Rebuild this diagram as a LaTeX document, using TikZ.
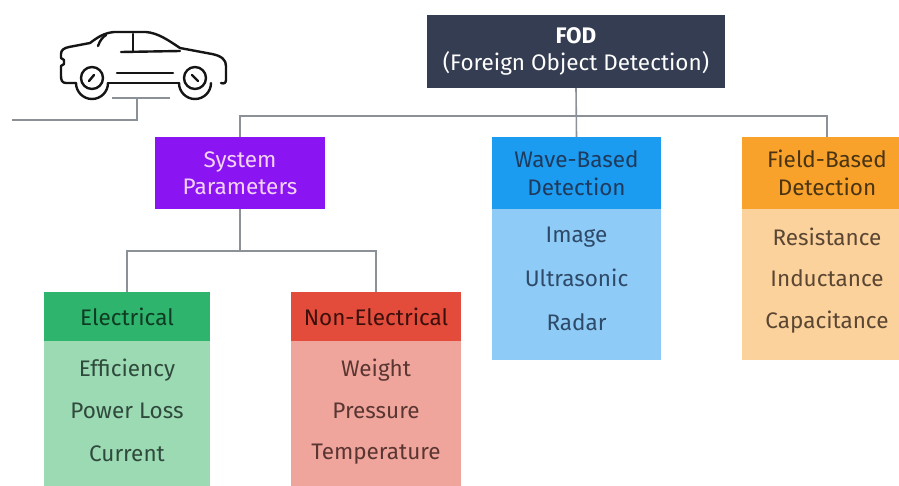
\documentclass[tikz,border=0pt]{standalone}
\usepackage{fontspec}
\setmainfont{Fira Sans}
\definecolor{fodC}{HTML}{353D52}
\definecolor{sysC}{HTML}{8A14F2}
\definecolor{sysT}{HTML}{F3D2F5}
\definecolor{waveH}{HTML}{1C9CF0}
\definecolor{waveB}{HTML}{8ECBF6}
\definecolor{waveT}{HTML}{1F3A5C}
\definecolor{waveI}{HTML}{2E4A68}
\definecolor{fieldH}{HTML}{F8A22C}
\definecolor{fieldB}{HTML}{FCD29C}
\definecolor{fieldT}{HTML}{4A3412}
\definecolor{fieldI}{HTML}{5A4632}
\definecolor{elecH}{HTML}{2EB46C}
\definecolor{elecB}{HTML}{9BDAB2}
\definecolor{elecT}{HTML}{0F3B22}
\definecolor{elecI}{HTML}{2F4A3C}
\definecolor{nonH}{HTML}{E34B3B}
\definecolor{nonB}{HTML}{F0A59C}
\definecolor{nonT}{HTML}{3B100B}
\definecolor{nonI}{HTML}{5A3632}
\definecolor{lineC}{HTML}{8C9197}
\definecolor{carC}{HTML}{151515}
\tikzset{
  box/.style={inner sep=0pt, outer sep=0pt, align=center, font=\fontsize{22.5}{27.5}\selectfont},
  item/.style={inner sep=0pt, outer sep=0pt, font=\fontsize{22.5}{26}\selectfont},
  conn/.style={draw=lineC, line width=1.6pt},
  carline/.style={draw=carC, line width=2.4pt, line cap=round, line join=round},
}
\begin{document}
\begin{tikzpicture}[x=1pt,y=-1pt]
\useasboundingbox (0,0) rectangle (899,485);
\clip (0,0) rectangle (899,485);
\fill[white] (0,0) rectangle (899,485);

% coordinates for buses
\coordinate (bus) at (0,116);
\coordinate (subbus) at (0,251);

% top node
\node[box, fill=fodC, text=white, minimum width=298, minimum height=73] (fod) at (576,51.5)
  {\textbf{FOD}\\(Foreign Object Detection)};

% level 1
\node[box, fill=sysC, text=sysT, minimum width=170, minimum height=72] (sys) at (240,173)
  {System\\Parameters};
\node[box, fill=waveH, text=waveT, minimum width=169, minimum height=72] (wave) at (576.5,173)
  {Wave-Based\\Detection};
\node[box, fill=fieldH, text=fieldT, minimum width=170, minimum height=72] (field) at (827,173)
  {Field-Based\\Detection};
\node[box, fill=waveB, minimum width=169, minimum height=151, anchor=north] (waveb) at (wave.south) {};
\node[box, fill=fieldB, minimum width=170, minimum height=151, anchor=north] (fieldb) at (field.south) {};

% level 2
\node[box, fill=elecH, text=elecT, minimum width=166, minimum height=49] (elec) at (127,316.5) {Electrical};
\node[box, fill=nonH, text=nonT, minimum width=170, minimum height=49] (non) at (376,316.5) {Non-Electrical};
\node[box, fill=elecB, minimum width=166, minimum height=160, anchor=north] (elecb) at (elec.south) {};
\node[box, fill=nonB, minimum width=170, minimum height=160, anchor=north] (nonb) at (non.south) {};

% items
\node[item, text=waveI] (w1) at (576.5,237) {Image};
\node[item, text=waveI] (w2) at (576.5,278) {Ultrasonic};
\node[item, text=waveI] (w3) at (576.5,322) {Radar};
\node[item, text=fieldI] (f1) at (827,237) {Resistance};
\node[item, text=fieldI] (f2) at (827,278) {Inductance};
\node[item, text=fieldI] (f3) at (827,322) {Capacitance};
\node[item, text=elecI] (e1) at (127,370) {Efficiency};
\node[item, text=elecI] (e2) at (127,411) {Power Loss};
\node[item, text=elecI] (e3) at (127,454) {Current};
\node[item, text=nonI] (n1) at (376,370) {Weight};
\node[item, text=nonI] (n2) at (376,411) {Pressure};
\node[item, text=nonI] (n3) at (376,454) {Temperature};

% connectors
\draw[conn] (fod.south) -- (wave.north);
\draw[conn] (sys.north) -- (sys.north |- bus) -- (field.north |- bus) -- (field.north);
\draw[conn] (sys.south) -- (sys.south |- subbus);
\draw[conn] (elec.north) -- (elec.north |- subbus) -- (non.north |- subbus) -- (non.north);

% car icon
\coordinate (carbase) at (137,98);
\coordinate (carend) at (12,120);
\draw[carline] (76,83) -- (66,83) .. controls (62,83) and (61,80) .. (61,76)
  -- (61,66) -- (64,64) -- (64,60) -- (61,58) -- (61,54) .. controls (61,50) and (64,48) .. (69,47)
  -- (90,43) .. controls (98,37) and (104,33) .. (114,32) -- (146,32)
  .. controls (158,33) and (168,40) .. (180,48) -- (212,54)
  .. controls (222,56) and (226,60) .. (226,66) -- (226,80) .. controls (226,83) and (224,84) .. (221,83);
\draw[carline] (211,83) arc[start angle=0, end angle=180, radius=16];
\draw[carline] (108,83) arc[start angle=0, end angle=180, radius=16];
\draw[carline] (179,83) -- (108,83);
\draw[carline] (98,46) .. controls (100,40) and (103,37) .. (106,35);
\draw[carline] (133,34) -- (133,52);
\draw[carline] (121,52) -- (180,51);
\draw[carline] (117,73) -- (173,73);
\draw[carline] (92,78) circle[radius=11];
\draw[carline] (195,78) circle[radius=11];
\draw[carline] (89,81) -- (94,75);
\draw[carline] (192,75) -- (198,81);
\draw[conn] (112,98) -- (170,98);
\draw[conn] (carbase) |- (carend);
\end{tikzpicture}
\end{document}
